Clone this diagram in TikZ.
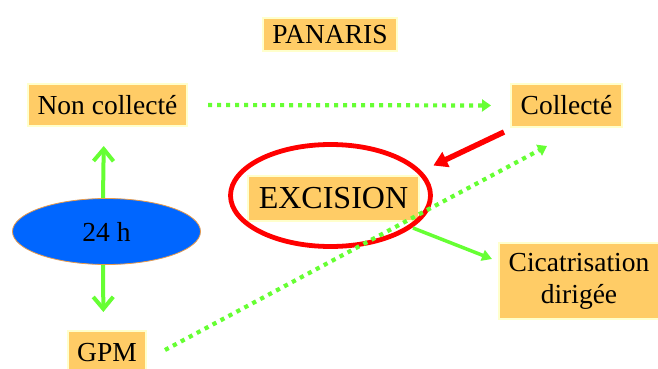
\documentclass[tikz,border=0pt]{standalone}
\usepackage{fontspec}
\setmainfont{Liberation Serif}
\usetikzlibrary{arrows.meta,calc,shapes.geometric}
\definecolor{boxfill}{HTML}{FFCC66}
\definecolor{boxedge}{HTML}{FFFFCC}
\definecolor{lgreen}{HTML}{66FF33}
\definecolor{ovalblue}{HTML}{0066FF}
\definecolor{ovaledge}{HTML}{E89A4A}
\begin{document}
\begin{tikzpicture}[x=1pt,y=-1pt,
  lbl/.style={fill=boxfill, draw=boxedge, line width=2pt, inner sep=0pt,
    font=\fontsize{27.5}{32}\selectfont, align=center},
  vgreen/.style={draw=lgreen, line width=4pt, -{Straight Barb[length=12pt,width=20pt]}},
  dotarrow/.style={draw=lgreen, line width=4.2pt, dash pattern=on 4.2pt off 4.8pt,
    -{Triangle[length=9pt,width=12pt]}},
  redarrow/.style={draw=red, line width=5.5pt, -{Triangle[length=14pt,width=16pt]}},
  greenarrow/.style={draw=lgreen, line width=3.5pt, -{Triangle[length=10pt,width=11pt]}}]
\useasboundingbox (0,0) rectangle (658,369);
\clip (0,0) rectangle (658,369);
\node[lbl, minimum width=134pt, minimum height=33pt] (pan) at (330,34.5) {PANARIS};
\node[lbl, minimum width=159pt, minimum height=42pt] (nc) at (107.5,105) {Non collecté};
\node[lbl, minimum width=111pt, minimum height=43pt] (col) at (566.5,105.5) {Collecté};
\node[lbl, minimum width=171pt, minimum height=45pt, font=\fontsize{32}{36}\selectfont] (exc) at (333.5,198.5) {EXCISION};
\node[draw=red, line width=4.8pt, ellipse, minimum width=200pt, minimum height=102pt, inner sep=0pt] (ring) at (330.5,195.5) {};
\node[lbl, minimum width=160pt, minimum height=76pt] (cic) at (579,281) {Cicatrisation\\dirigée};
\node[ellipse, fill=ovalblue, draw=ovaledge, line width=0.8pt, minimum width=188pt, minimum height=66pt, inner sep=0pt, font=\fontsize{27.5}{32}\selectfont] (h24) at (106.5,231.5) {24 h};
\node[lbl, minimum width=78pt, minimum height=44pt] (gpm) at (107,353) {GPM};
\draw[vgreen, shorten >=19pt] ([xshift=-3.5pt]h24.north) -- ([xshift=-3.5pt]nc.south);
\draw[vgreen, shorten >=18pt] ([xshift=-3.5pt]h24.south) -- ([xshift=-3.5pt]gpm.north);
\draw[dotarrow, shorten <=20pt, shorten >=19pt] (nc.east) -- (col.west);
\draw[redarrow, shorten >=13pt] ($(col.south west)+(-6,4)$) -- (ring.15);
\draw[greenarrow] ($(exc.south east)+(-7,6)$) -- ($(cic.west)+(-6,-22)$);
\draw[dotarrow] ($(gpm.east)+(18,-3)$) -- ($(col.south)+(-19.5,18)$);
\end{tikzpicture}
\end{document}
